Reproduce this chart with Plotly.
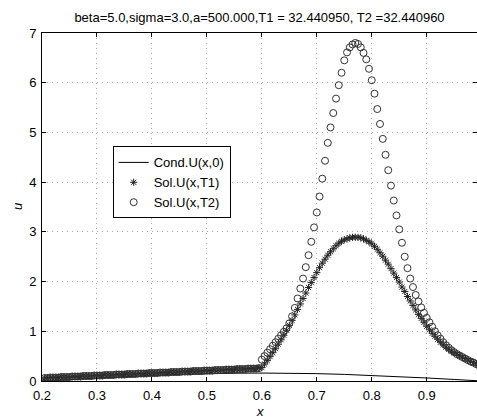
import numpy as np
import plotly.graph_objects as go

# Sampling grid of the solution (0.2 .. 1.0, step 0.005)
x_sol = np.round(np.linspace(0.2, 1.0, 161), 3)

# Left part (0.200 .. 0.595), same for both solutions
u_left = [0.00,
          0.06, 0.06, 0.07, 0.07, 0.07, 0.07, 0.08, 0.08, 0.08, 0.08,
          0.09, 0.09, 0.09, 0.09, 0.10, 0.10, 0.10, 0.10, 0.11, 0.11,
          0.11, 0.11, 0.12, 0.12, 0.12, 0.12, 0.13, 0.13, 0.13, 0.13,
          0.14, 0.14, 0.14, 0.14, 0.15, 0.15, 0.15, 0.15, 0.16, 0.16,
          0.16, 0.16, 0.17, 0.17, 0.17, 0.17, 0.18, 0.18, 0.18, 0.18,
          0.19, 0.19, 0.19, 0.19, 0.20, 0.20, 0.20, 0.20, 0.21, 0.21,
          0.21, 0.21, 0.22, 0.22, 0.22, 0.22, 0.23, 0.23, 0.23, 0.23,
          0.24, 0.24, 0.24, 0.24, 0.25, 0.25, 0.25, 0.25, 0.26]

# Right part (0.600 .. 1.000)
u_t1_right = [0.27, 0.34, 0.41, 0.49, 0.57, 0.65, 0.74, 0.83, 0.92, 1.02,
              1.12, 1.22, 1.33, 1.44, 1.55, 1.66, 1.77, 1.88, 1.98, 2.08,
              2.18, 2.28, 2.37, 2.45, 2.53, 2.60, 2.66, 2.72, 2.77, 2.81,
              2.84, 2.86, 2.88, 2.89, 2.89, 2.89, 2.88, 2.86, 2.83, 2.80,
              2.76, 2.71, 2.65, 2.58, 2.51, 2.43, 2.35, 2.26, 2.17, 2.08,
              1.99, 1.89, 1.80, 1.70, 1.61, 1.52, 1.43, 1.34, 1.26, 1.18,
              1.10, 1.03, 0.96, 0.90, 0.84, 0.78, 0.73, 0.68, 0.64, 0.60,
              0.57, 0.54, 0.51, 0.48, 0.45, 0.42, 0.40, 0.37, 0.34, 0.31,
              0.29]

u_t2_right = [0.43, 0.50, 0.57, 0.64, 0.71, 0.78, 0.85, 0.92, 0.99, 1.06,
              1.16, 1.30, 1.47, 1.66, 1.86, 2.06, 2.29, 2.53, 2.80, 3.09,
              3.39, 3.71, 4.07, 4.43, 4.79, 5.10, 5.39, 5.68, 5.95, 6.20,
              6.45, 6.61, 6.71, 6.77, 6.80, 6.78, 6.71, 6.60, 6.47, 6.28,
              6.05, 5.78, 5.47, 5.17, 4.87, 4.55, 4.24, 3.93, 3.63, 3.33,
              3.05, 2.78, 2.50, 2.27, 2.06, 1.89, 1.73, 1.60, 1.48, 1.37,
              1.27, 1.18, 1.09, 1.00, 0.92, 0.85, 0.78, 0.72, 0.67, 0.62,
              0.58, 0.54, 0.51, 0.48, 0.45, 0.42, 0.39, 0.37, 0.34, 0.32,
              0.29]

u_t1 = u_left + u_t1_right
u_t2 = u_left + u_t2_right

# Initial condition
x_cond = [0.20, 0.25, 0.30, 0.35, 0.40, 0.45, 0.50, 0.55, 0.60,
          0.65, 0.70, 0.75, 0.80, 0.85, 0.90, 0.95, 1.00]
u_cond = [0.000, 0.031, 0.061, 0.089, 0.113, 0.133, 0.148, 0.157, 0.160,
          0.157, 0.148, 0.133, 0.113, 0.089, 0.061, 0.031, 0.000]

x_ticks = [0.2, 0.3, 0.4, 0.5, 0.6, 0.7, 0.8, 0.9]
x_ticktext = ["0.2", "0.3", "0.4", "0.5", "0.6", "0.7", "0.8", "0.9"]
y_ticks = [0, 1, 2, 3, 4, 5, 6, 7]

title_text = "beta=5.0,sigma=3.0,a=500.000,T1 = 32.440950, T2 =32.440960"

FONT = "Liberation Sans, Arial, Helvetica, sans-serif"

fig = go.Figure()
fig.add_trace(go.Scatter(x=x_cond, y=u_cond, mode="lines", name="Cond.U(x,0)",
                         line=dict(color="black", width=1)))
fig.add_trace(go.Scatter(x=x_sol, y=u_t1, mode="markers", name="Sol.U(x,T1)",
                         marker=dict(symbol="asterisk-open", size=6,
                                     color="#222222",
                                     line=dict(color="#222222", width=1))))
fig.add_trace(go.Scatter(x=x_sol, y=u_t2, mode="markers", name="Sol.U(x,T2)",
                         marker=dict(symbol="circle-open", size=7,
                                     color="#333333",
                                     line=dict(color="#333333", width=1))))

axis_common = dict(showline=True, linecolor="black", linewidth=1, mirror="ticks",
                   ticks="inside", ticklen=4, tickcolor="black",
                   showgrid=True, gridcolor="#a8a8a8", griddash="1px,4px", gridwidth=1,
                   zeroline=False, tickfont=dict(family=FONT, size=13, color="black"))

fig.update_layout(
    width=477, height=418,
    margin=dict(l=42, r=0, t=33, b=37),
    paper_bgcolor="white", plot_bgcolor="white",
    font=dict(family=FONT, size=13, color="black"),
    title=dict(text=title_text, x=0.5, xref="paper", y=1 - 17 / 418,
               yref="container", xanchor="center", yanchor="middle",
               font=dict(family=FONT, size=13, color="black")),
    xaxis=dict(range=[0.2, 0.9915], tickvals=x_ticks, ticktext=x_ticktext,
               ticklabelstandoff=2, **axis_common),
    yaxis=dict(range=[0, 7], tickvals=y_ticks, ticklabelstandoff=2, **axis_common),
    legend=dict(x=0.1625, y=0.674, xanchor="left", yanchor="top",
                bgcolor="white", bordercolor="black", borderwidth=1,
                font=dict(family=FONT, size=13, color="black"),
                tracegroupgap=0, itemwidth=30),
    showlegend=True,
    annotations=[
        dict(text="<i>x</i>", xref="paper", yref="paper", x=0.5, y=-(412 - 381.5) / 348,
             showarrow=False, xanchor="center", yanchor="middle",
             font=dict(family=FONT, size=13, color="black")),
        dict(text="<i>u</i>", xref="paper", yref="paper", x=-(42 - 17) / 435, y=0.5,
             showarrow=False, xanchor="center", yanchor="middle", textangle=-90,
             font=dict(family=FONT, size=13, color="black")),
    ],
)

fig.write_html("out.html")
